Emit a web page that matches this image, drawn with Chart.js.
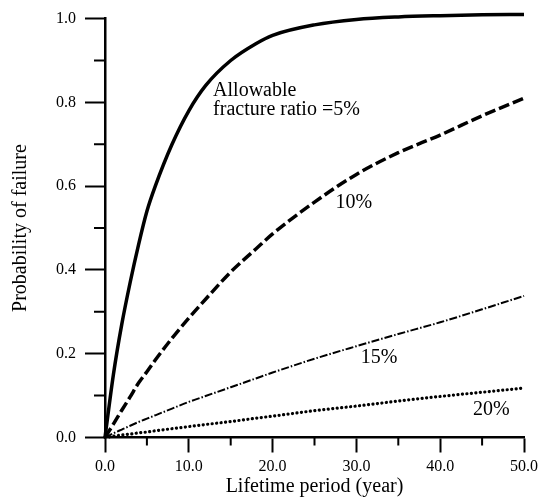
<!DOCTYPE html>
<html>
<head>
<meta charset="utf-8">
<script src="https://cdn.jsdelivr.net/npm/chart.js@4"></script>
<style>
  html, body { margin: 0; padding: 0; background: #fff; }
  canvas { display: block; }
</style>
</head>
<body>
<canvas id="failureChart" width="554" height="497"></canvas>
<script>
// lifetime (year)
const years = [0, 1, 2, 3, 4, 5, 6, 8, 10, 12, 15, 18, 20, 25, 30, 35, 40, 45, 50];

// probability of failure for each allowable fracture ratio
const ratio5  = [0, 0.15, 0.27, 0.37, 0.46, 0.54, 0.60, 0.70, 0.78, 0.84, 0.90, 0.94, 0.96, 0.985, 0.998, 1.004, 1.007, 1.009, 1.01];
const ratio10 = [0, 0.032, 0.065, 0.097, 0.13, 0.157, 0.185, 0.237, 0.285, 0.33, 0.395, 0.45, 0.486, 0.562, 0.628, 0.68, 0.722, 0.768, 0.81];
const ratio15 = [0, 0.01, 0.019, 0.028, 0.037, 0.045, 0.053, 0.069, 0.085, 0.099, 0.12, 0.141, 0.155, 0.188, 0.218, 0.247, 0.275, 0.306, 0.338];
const ratio20 = [0, 0.003, 0.006, 0.008, 0.011, 0.013, 0.016, 0.021, 0.026, 0.031, 0.038, 0.046, 0.051, 0.064, 0.075, 0.087, 0.098, 0.108, 0.118];

// minor tick values
const xMinor = [5, 15, 25, 35, 45];
const yMinor = [0.1, 0.3, 0.5, 0.7, 0.9];

// curve labels, placed in data units
const curveLabels = [
    { text: 'Allowable', x: 12.9, y: 0.815, align: 'left' },
    { text: 'fracture ratio =5%', x: 12.9, y: 0.769, align: 'left' },
    { text: '10%', x: 29.7, y: 0.548, align: 'center' },
    { text: '15%', x: 32.7, y: 0.177, align: 'center' },
    { text: '20%', x: 46.1, y: 0.054, align: 'center' }
];

const serif = '"Liberation Serif", "Times New Roman", serif';
Chart.defaults.font.family = serif;
Chart.defaults.color = '#000';

function pairs(values) {
    return years.map((t, i) => ({ x: t, y: values[i] }));
}

// 次刻度和曲线标注
const extrasPlugin = {
    id: 'extras',
    afterDraw(chart) {
        const { ctx, scales: { x, y } } = chart;
        ctx.save();
        ctx.strokeStyle = '#000';
        ctx.lineWidth = 2;
        ctx.beginPath();
        xMinor.forEach(v => {
            const px = x.getPixelForValue(v);
            ctx.moveTo(px, x.top);
            ctx.lineTo(px, x.top + 8);
        });
        yMinor.forEach(v => {
            const py = y.getPixelForValue(v);
            ctx.moveTo(y.right, py);
            ctx.lineTo(y.right - 11, py);
        });
        ctx.stroke();

        ctx.fillStyle = '#000';
        ctx.font = '20px ' + serif;
        ctx.textBaseline = 'alphabetic';
        curveLabels.forEach(l => {
            ctx.textAlign = l.align;
            ctx.fillText(l.text, x.getPixelForValue(l.x), y.getPixelForValue(l.y));
        });
        ctx.restore();
    }
};

const common = { pointRadius: 0, borderColor: '#000', fill: false, cubicInterpolationMode: 'monotone', clip: false };

new Chart(document.getElementById('failureChart'), {
    type: 'line',
    data: {
        datasets: [
            { ...common, label: '5%', data: pairs(ratio5), borderWidth: 3.5 },
            { ...common, label: '10%', data: pairs(ratio10), borderWidth: 3.5, borderDash: [11, 4] },
            { ...common, label: '15%', data: pairs(ratio15), borderWidth: 2, borderDash: [8, 2, 1.5, 2] },
            { ...common, label: '20%', data: pairs(ratio20), borderWidth: 3.2, borderDash: [0.1, 4.4], borderCapStyle: 'round' }
        ]
    },
    options: {
        responsive: false,
        animation: false,
        layout: { padding: { top: 17, right: 30, bottom: 0, left: 0 } },
        plugins: {
            legend: { display: false },
            tooltip: { enabled: false }
        },
        scales: {
            x: {
                type: 'linear',
                min: 0,
                max: 50,
                afterFit: scale => { scale.height = 59.5; },
                border: { display: true, color: '#000', width: 2.5 },
                grid: { drawOnChartArea: false, drawTicks: true, tickLength: 15, tickWidth: 2, tickColor: '#000' },
                ticks: {
                    stepSize: 10,
                    padding: 5,
                    font: { size: 16 },
                    callback: v => v.toFixed(1)
                },
                title: {
                    display: true,
                    text: 'Lifetime period (year)',
                    font: { size: 20, lineHeight: 1 },
                    padding: 0
                }
            },
            y: {
                min: 0,
                max: 1,
                afterFit: scale => { scale.width = 105; },
                border: { display: true, color: '#000', width: 2.5 },
                grid: { drawOnChartArea: false, drawTicks: true, tickLength: 20, tickWidth: 2, tickColor: '#000' },
                ticks: {
                    stepSize: 0.2,
                    padding: 9,
                    font: { size: 16 },
                    callback: v => v.toFixed(1)
                },
                title: {
                    display: true,
                    text: 'Probability of failure',
                    font: { size: 20, lineHeight: 1 },
                    padding: { top: 11, bottom: 0 }
                }
            }
        }
    },
    plugins: [extrasPlugin]
});
</script>
</body>
</html>
